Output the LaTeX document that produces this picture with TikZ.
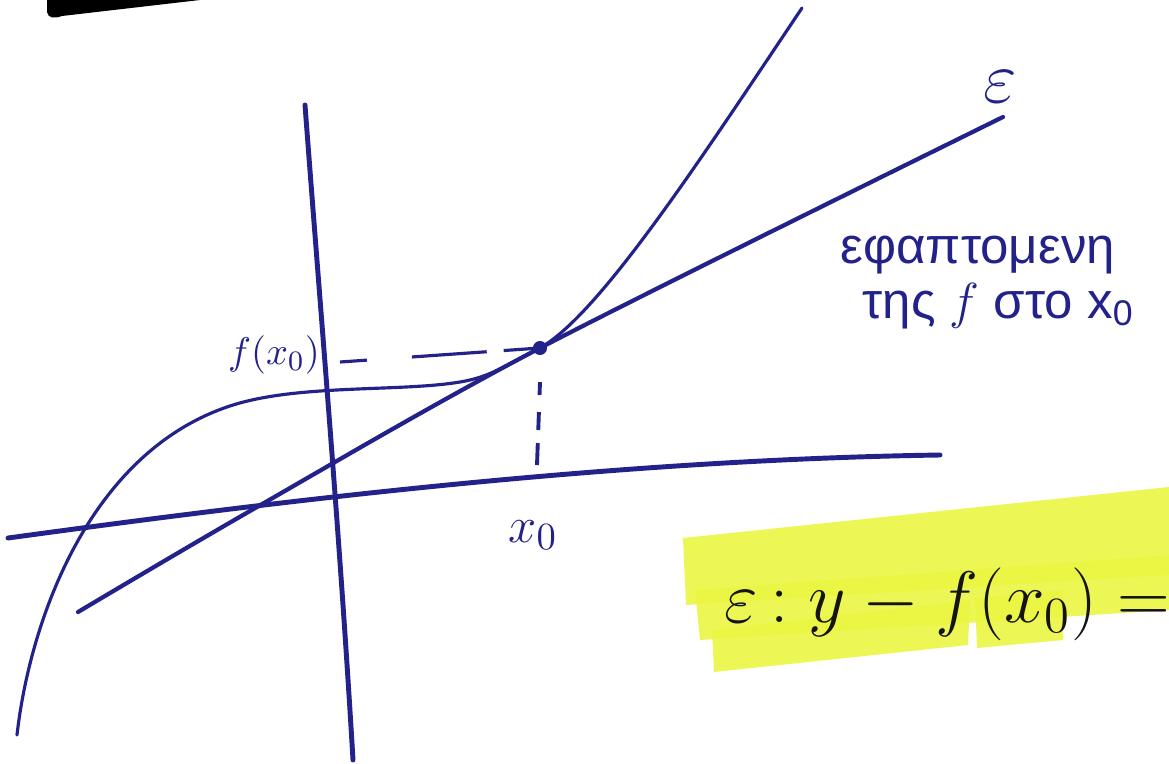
\documentclass[tikz,border=0pt]{standalone}
\usepackage{fontspec}
\setmainfont{Liberation Sans}
\definecolor{ink}{RGB}{34,34,138}
\definecolor{marker}{RGB}{234,246,66}
\definecolor{pen}{RGB}{20,20,20}
\begin{document}
\begin{tikzpicture}[
			x=0.01cm, y=-0.01cm,
			axis/.style={draw=ink, line width=1.4pt, line cap=round},
			tangent/.style={draw=ink, line width=1.2pt, line cap=round},
			graph/.style={draw=ink, line width=0.9pt, line cap=round},
			guide/.style={draw=ink, line width=0.9pt},
			lbl/.style={text=ink, inner sep=0pt}
			]
			
			\useasboundingbox (0,0) rectangle (1169,763);
			\clip (0,0) rectangle (1169,763);
			
			% Highlighter strokes
			\fill[marker, opacity=0.9] (683,538) -- (1169,487) -- (1169,575) -- (686,605) -- cycle;
			\fill[marker, opacity=0.9] (695,590) -- (1169,555) -- (1169,610) -- (700,640) -- cycle;
			\fill[marker, opacity=0.9] (712,630) -- (970,600) -- (968,645) -- (714,672) -- cycle;
			\fill[marker, opacity=0.9] (975,598) -- (1063,590) -- (1063,640) -- (977,648) -- cycle;
			
			% Black mark at the top
			\fill[black] (47,0) -- (47,12) .. controls (48,18) and (54,19) .. (62,16) -- (200,0) -- cycle;
			
			% Axes
			\draw[axis] (8,538) .. controls (250,505) and (600,460) .. (940,455);
			\draw[axis] (305,105) .. controls (322,330) and (340,540) .. (353,760);
			
			% Graph of f
			\coordinate (M) at (540,348);
			\draw[graph] (17,735) .. controls (30,620) and (90,450) .. (233,405)
				.. controls (300,384) and (400,392) .. (460,382)
				.. controls (490,377) and (505,366) .. (M)
				.. controls (600,314) and (700,160) .. (802,8);
			
			% Tangent line
			\draw[tangent] plot[smooth] coordinates {(78,612) (257,507) (540,348) (1003,117)};
			
			% Guides to the axes
			\coordinate (My) at (340,362);
			\coordinate (Mx) at (537,465);
			\draw[guide, dash pattern=on 0.27cm off 0.45cm on 0.75cm off 0.17cm on 0.3cm] (My) -- (M);
			\draw[guide, line width=1.1pt, dash pattern=on 0.13cm off 0.17cm on 0.18cm off 0.13cm on 0.3cm] ([yshift=-0.34cm]M) -- (Mx);
			
			% Point of contact
			\fill[ink] (M) circle[radius=2pt];
			
			% Labels
			\node[lbl, font=\fontsize{11}{13}\selectfont] (fx0) at (274,355) {$f(x_0)$};
			\node[lbl, font=\fontsize{15}{18}\selectfont] (xzero) at (533,535) {$x_0$};
			\node[lbl, font=\fontsize{20}{24}\selectfont] (eps) at (1000,87) {$\varepsilon$};
			\node[lbl, anchor=base west, font=\fontsize{14.5}{17}\selectfont] (tanA) at (840,263) {εφαπτομενη};
			\node[lbl, anchor=base west, font=\fontsize{14.5}{17}\selectfont] (tanB) at (862,318) {της $f$ στο x\textsubscript{0}};
			
			% Equation
			\node[text=pen, anchor=base west, inner sep=0pt, font=\fontsize{20.5}{25}\selectfont] (eqn) at (724,622) {$\varepsilon\,{:}\; y - f(x_0) =$};
			
		\end{tikzpicture}
\end{document}
